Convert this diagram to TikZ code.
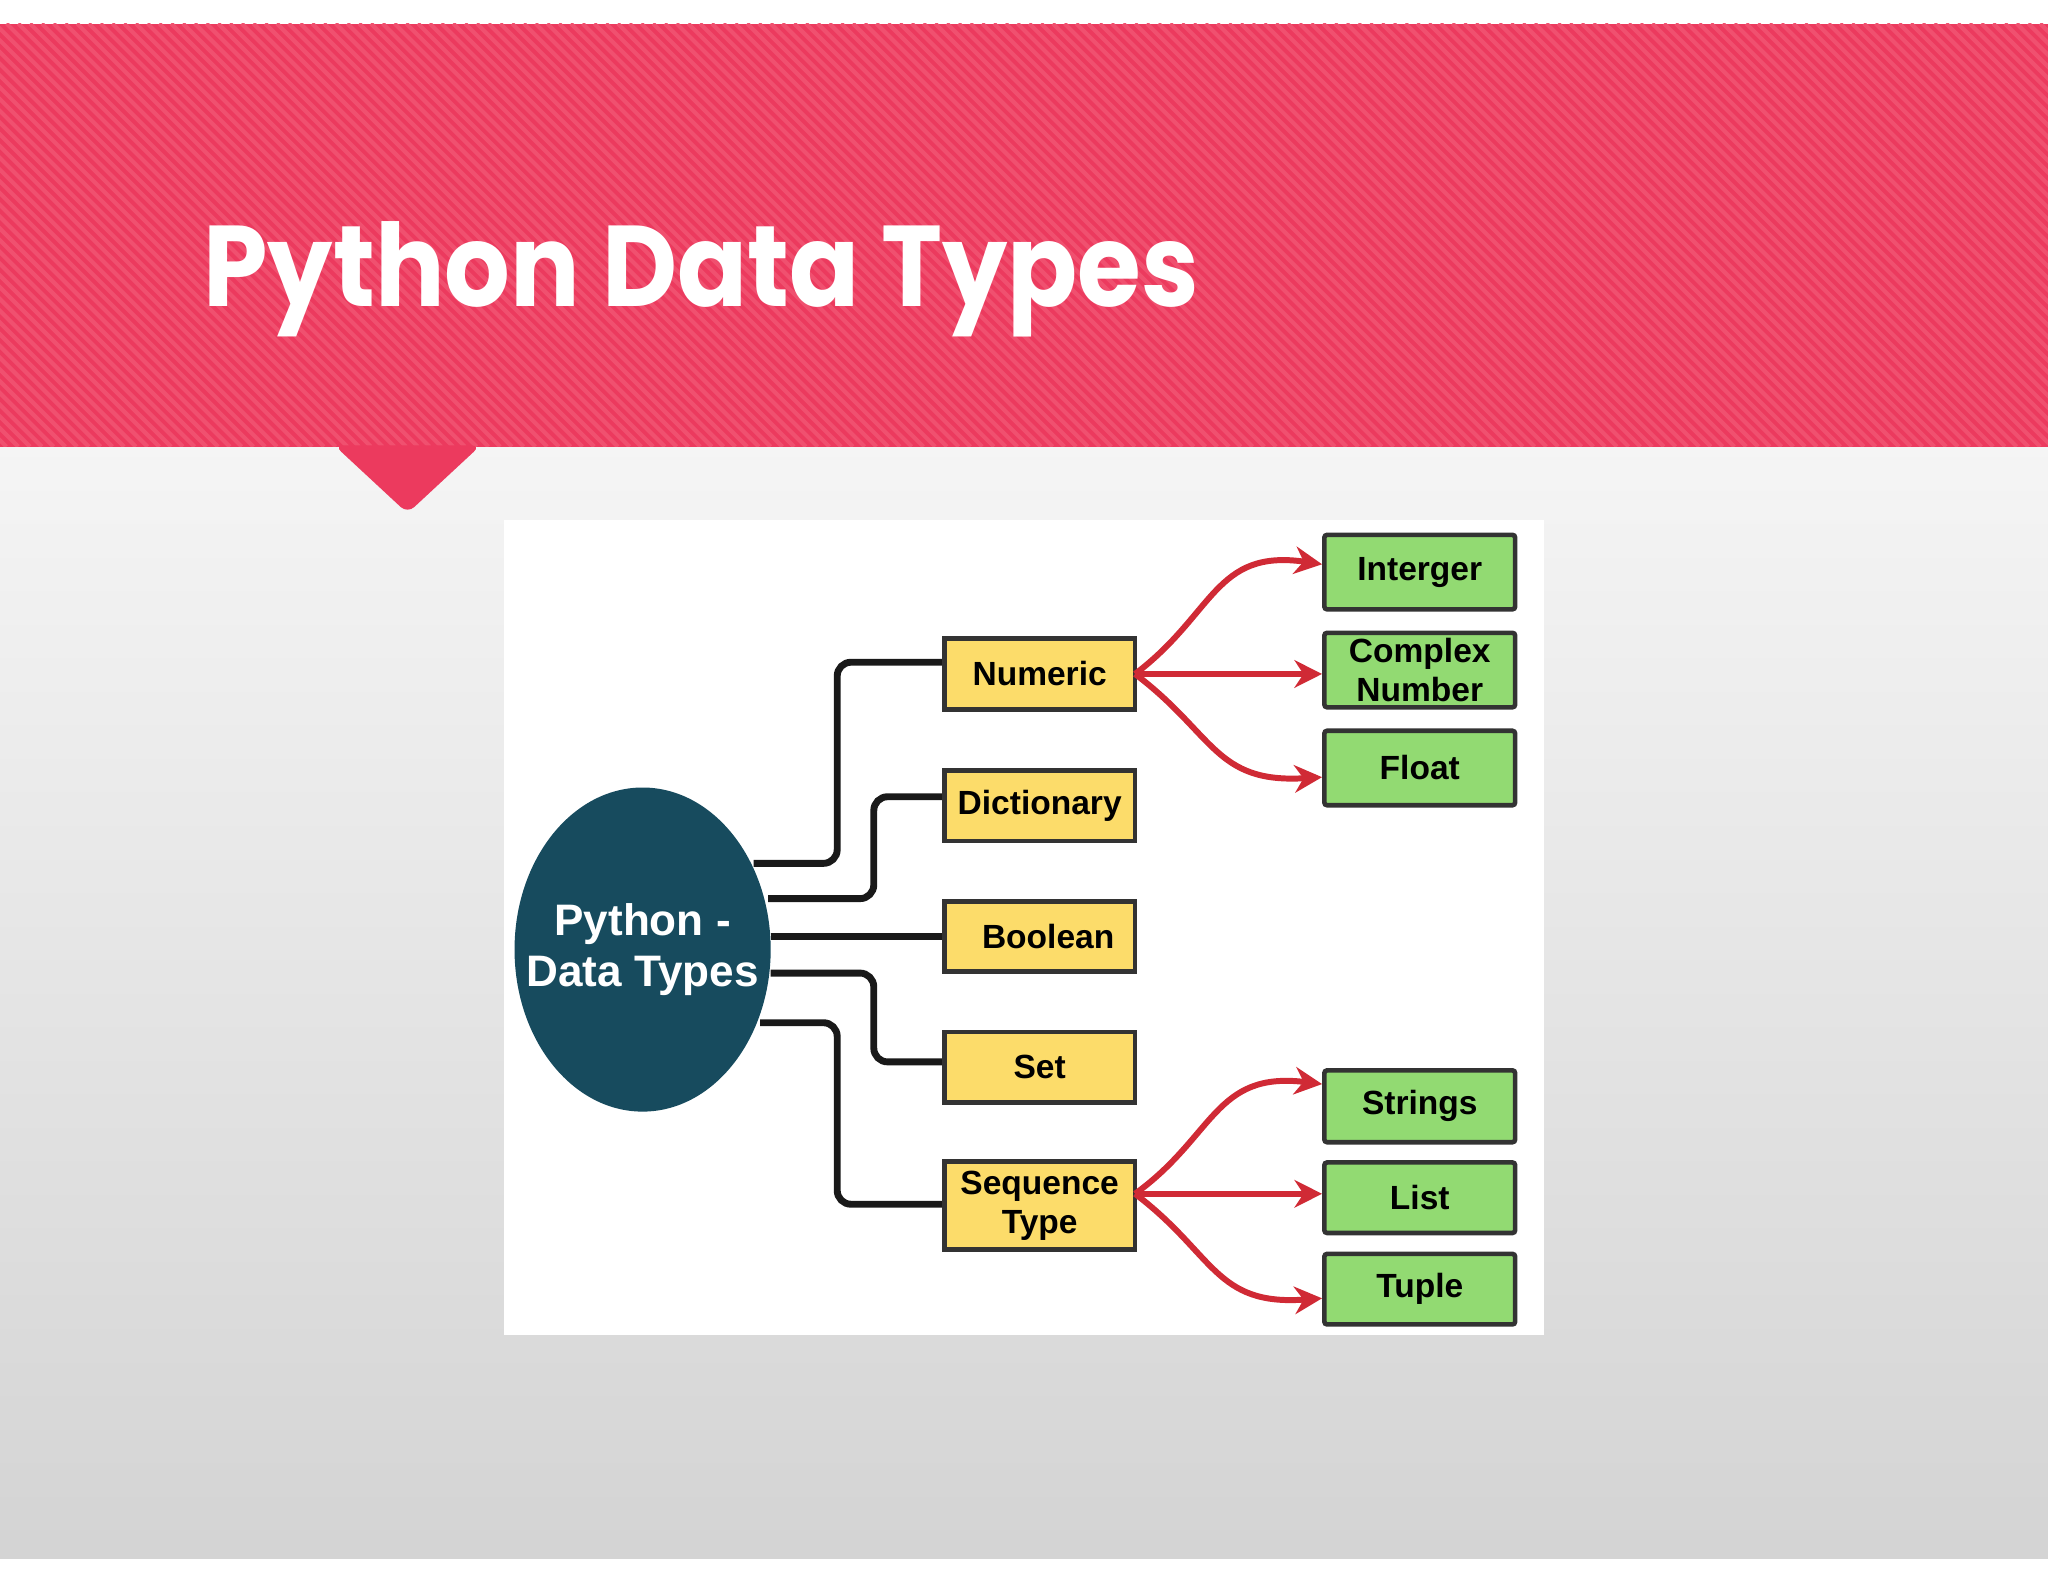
\documentclass[tikz,border=0pt]{standalone}
\usepackage{fontspec}
\setmainfont{Liberation Sans}
\newfontfamily\titlefont{Poppins}
\usetikzlibrary{arrows.meta,shapes.geometric}
\definecolor{band}{HTML}{EC3A5E}
\definecolor{bandl}{HTML}{F0506F}
\definecolor{ell}{HTML}{174B5E}
\definecolor{ybox}{HTML}{FCDC6A}
\definecolor{gbox}{HTML}{92DA72}
\definecolor{arr}{HTML}{D02A35}
\tikzset{
 ycat/.style={draw=black!80,line width=1pt,fill=ybox,minimum width=1.46cm,align=center,font=\bfseries\fontsize{7.3}{8.6}\selectfont,inner sep=0pt},
 gcat/.style={draw=black!80,line width=1pt,fill=gbox,rounded corners=0.6pt,minimum width=1.46cm,align=center,font=\bfseries\fontsize{7.3}{8.6}\selectfont,inner sep=0pt},
 link/.style={line width=1.5pt,black!90,rounded corners=3pt},
 rarr/.style={line width=1.3pt,arr,-{Stealth[length=6pt,width=6pt]}}
}
\begin{document}
\begin{tikzpicture}[x=0.01cm,y=-0.01cm]
\useasboundingbox (0,0) rectangle (1568,1211);
\fill[white] (0,0) rectangle (1568,1211);
\shade[top color=black!4,bottom color=black!17] (0,342) rectangle (1568,1193);
\begin{scope}
\clip (0,18) rectangle (1568,342);
\fill[band] (0,18) rectangle (1568,342);
\foreach \i in {-400,-391,...,1600}{\draw[bandl,line width=0.9pt] (\i,18) -- (\i+324,342);}
\end{scope}
\fill[band,rounded corners=2pt] (256,341) -- (368,341) -- (312,393) -- cycle;
\node[anchor=base west,text=white,font=\titlefont\bfseries\fontsize{25}{30}\selectfont,inner sep=0,xscale=0.9] (title) at (155,235) {Python Data Types};
\fill[white] (386,398) rectangle (1182,1022);
\node[ellipse,fill=ell,minimum width=1.96cm,minimum height=2.48cm,inner sep=0] (root) at (492,727) {};
\node[text=white,align=center,font=\bfseries\fontsize{9.6}{11.2}\selectfont] (rootlbl) at (root.center) {Python -\\Data Types};
\node[ycat,minimum height=0.54cm] (num) at (796,516) {Numeric};
\node[ycat,minimum height=0.54cm] (dic) at (796,617) {Dictionary};
\node[ycat,minimum height=0.54cm] (boo) at (796,717) {\hspace{0.13cm}Boolean};
\node[ycat,minimum height=0.54cm] (set) at (796,817) {Set};
\node[ycat,minimum height=0.67cm] (seq) at (796,923) {Sequence\\Type};
\node[gcat,minimum height=0.57cm] (int) at (1087,438) {Interger};
\node[gcat,minimum height=0.57cm] (cpx) at (1087,513) {Complex\\Number};
\node[gcat,minimum height=0.57cm] (flo) at (1087,588) {Float};
\node[gcat,minimum height=0.55cm] (str) at (1087,847) {Strings};
\node[gcat,minimum height=0.54cm] (lis) at (1087,917) {List};
\node[gcat,minimum height=0.54cm] (tup) at (1087,987) {Tuple};
\coordinate (a1) at (577,661); \coordinate (a2) at (588,688); \coordinate (a3) at (590,717);
\coordinate (a4) at (590,745); \coordinate (a5) at (582,783);
\draw[link] (a1) -- (641,661) -- (641,507) -- (num.west |- 0,507);
\draw[link] (a2) -- (669,688) -- (669,610) -- (dic.west |- 0,610);
\draw[link] (a3) -- (boo.west);
\draw[link] (a4) -- (669,745) -- (669,813) -- (set.west |- 0,813);
\draw[link] (a5) -- (641,783) -- (641,922) -- (seq.west |- 0,922);
\coordinate (n0) at (869,516);
\draw[rarr] (n0) .. controls (930,470) and (930,420) .. (int.west |- 0,432);
\draw[rarr] (n0) -- (cpx.west |- 0,516);
\draw[rarr] (n0) .. controls (930,562) and (930,600) .. (flo.west |- 0,595);
\coordinate (s0) at (869,914);
\draw[rarr] (s0) .. controls (930,870) and (930,820) .. (str.west |- 0,830);
\draw[rarr] (s0) -- (lis.west |- 0,914);
\draw[rarr] (s0) .. controls (930,960) and (930,1000) .. (tup.west |- 0,994);
\end{tikzpicture}
\end{document}
